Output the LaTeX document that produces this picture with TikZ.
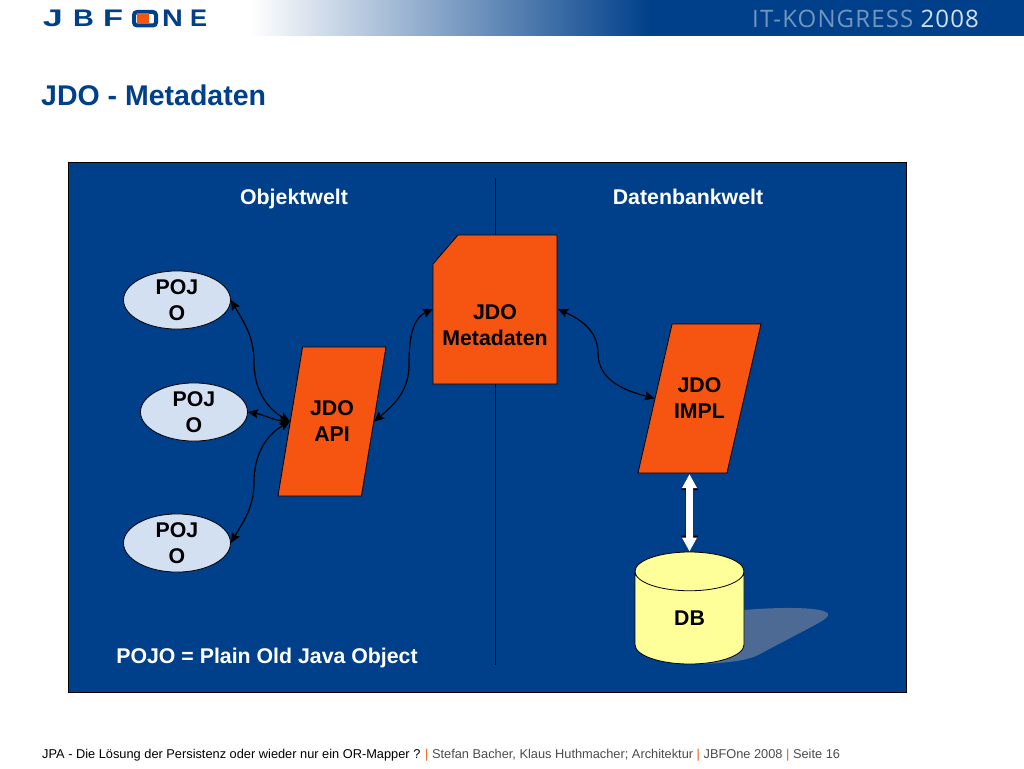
\documentclass[tikz,border=0pt]{standalone}
\usepackage{fontspec}
\setmainfont{Liberation Sans}
\newfontfamily\bannerfont[LetterSpace=4.7]{Open Sans}
\usetikzlibrary{shapes.geometric,arrows.meta}
\definecolor{jbblue}{HTML}{00408A}
\definecolor{jborange}{HTML}{F55511}
\definecolor{jbpale}{HTML}{D3E0F2}
\definecolor{jbyellow}{HTML}{FFFF99}
\definecolor{jbshadow}{HTML}{4D6A94}
\tikzset{
    bigtext/.style={font=\fontsize{21.3}{26}\selectfont\bfseries, align=center},
    pojobox/.style={ellipse, draw=black, fill=jbpale, line width=0.8pt, inner sep=0pt,
        minimum width=107pt, minimum height=56pt, text width=60pt, bigtext},
    slantbox/.style={trapezium, draw=black, fill=jborange, line width=0.8pt, inner xsep=0pt, inner ysep=50pt,
        trapezium stretches body=true, minimum height=149pt, bigtext},
    link/.style={black, line width=1.2pt, {Stealth[length=10pt,width=9pt,inset=1.5pt]}-{Stealth[length=10pt,width=9pt,inset=1.5pt]}},
    logoletter/.style={text=jbblue, font=\fontsize{24}{24}\selectfont\bfseries, inner sep=0pt},
}
\begin{document}
\begin{tikzpicture}[x=1pt, y=-1pt]
    \useasboundingbox (0,0) rectangle (1024,768);
    \fill[white] (0,0) rectangle (1024,768);

    % Kopfzeile
    \shade[left color=white, right color=jbblue] (250,0) rectangle (650,36);
    \fill[jbblue] (650,0) rectangle (1024,36);
    \foreach \ltr/\x/\sx in {J/53/1.5,B/83.5/1.2,F/113/1.36,N/172.5/1.2,E/198.5/1.06}
        \node[logoletter, xscale=\sx] (logo\ltr) at (\x,18.5) {\ltr};
    \draw[jbblue, line width=4pt, rounded corners=3pt, fill=white] (134,12) rectangle (156,25.5);
    \fill[jborange] (137,13.5) rectangle (149,23.5);
    \node[font=\bannerfont\fontsize{24}{24}\selectfont, anchor=west, inner sep=0pt] (kongress) at (752,18.5)
        {\textcolor{jbblue!55!white}{IT-KONGRESS} \textcolor{jbpale}{2008}};
    \node[font=\fontsize{28.5}{28.5}\selectfont\bfseries, text=jbblue, anchor=west, inner sep=0pt] (title) at (41,95) {JDO - Metadaten};

    % Blaue Flaeche
    \draw[black, fill=jbblue, line width=0.8pt] (68,162) rectangle (906,692);
    \draw[black, line width=0.8pt] (495,178) -- (495,665);
    \node[bigtext, text=white, anchor=base] (objektwelt) at (294,204) {Objektwelt};
    \node[bigtext, text=white, anchor=base] (datenbankwelt) at (688,204) {Datenbankwelt};
    \node[bigtext, text=white, anchor=base] (legende) at (267,663) {POJO = Plain Old Java Object};

    % Schatten der DB
    \fill[jbshadow] (735,611) .. controls (770,607) and (825,606) .. (828,614)
        .. controls (829,619) and (820,622) .. (760,654)
        .. controls (750,660) and (730,663) .. (700,664) -- cycle;

    % Knoten
    \node[pojobox] (pojoA) at (177,300) {POJ\\O};
    \node[pojobox] (pojoB) at (194,412) {POJ\\O};
    \node[pojobox] (pojoC) at (177,543) {POJ\\O};
    \node[slantbox, minimum width=108pt, trapezium left angle=80.1, trapezium right angle=99.9] (api) at (332,421.5) {JDO\\API};
    \draw[black, fill=jborange, line width=0.8pt] (433,264) -- (458,235) -- (557,235) -- (557,384) -- (433,384) -- cycle;
    \node[rectangle, minimum width=124pt, minimum height=149pt, inner sep=0pt, bigtext] (meta) at (495,325) {JDO\\Metadaten};
    \node[slantbox, minimum width=123pt, trapezium left angle=76.4, trapezium right angle=103.6] (impl) at (699.5,398.5) {JDO\\IMPL};
    \node[cylinder, shape border rotate=90, aspect=1.26, anchor=shape center, draw=black, fill=jbyellow, line width=0.8pt,
        inner sep=0pt, minimum width=109pt, minimum height=112pt, bigtext] (db) at (689.5,608) {DB};

    % Knickpunkte
    \coordinate (bendA) at (254,362);
    \coordinate (bendC) at (254,482);
    \coordinate (bendM) at (409,365);
    \coordinate (bendI) at (598,353);
    \coordinate (metaleft) at (433,309);
    \coordinate (metaright) at (558,309);
    \coordinate (implfoot) at (689.5,474);

    % Verbindungen
    \draw[link] (pojoA.east) to[out=-60,in=90] (bendA) to[out=-90,in=150] (api.left side);
    \draw[link] (pojoB.east) to[out=-10,in=175] (api.left side);
    \draw[link] (pojoC.east) to[out=60,in=-90] (bendC) to[out=90,in=210] (api.left side);
    \draw[link] (api.right side) to[out=40,in=-90] (bendM) to[out=90,in=205] (metaleft);
    \draw[link] (metaright) to[out=-25,in=90] (bendI) to[out=-90,in=165] (impl.left side);
    \draw[white, line width=7pt,
        preaction={draw=black, line width=8pt, {Triangle[length=16pt,width=16pt]}-{Triangle[length=16pt,width=16pt]}},
        {Triangle[length=14pt,width=14pt]}-{Triangle[length=14pt,width=14pt]}] (implfoot) -- (db.north);

    % Fusszeile
    \node[font=\fontsize{12.8}{12.8}\selectfont, anchor=west, inner sep=0pt] (fuss) at (42,755)
        {JPA - Die Lösung der Persistenz oder wieder nur ein OR-Mapper ? \textcolor{jborange}{|} \textcolor{black!70}{Stefan Bacher, Klaus Huthmacher; Architektur} \textcolor{jborange}{|} \textcolor{black!70}{JBFOne 2008} \textcolor{jborange}{|} \textcolor{black!70}{Seite 16}};
\end{tikzpicture}
\end{document}
